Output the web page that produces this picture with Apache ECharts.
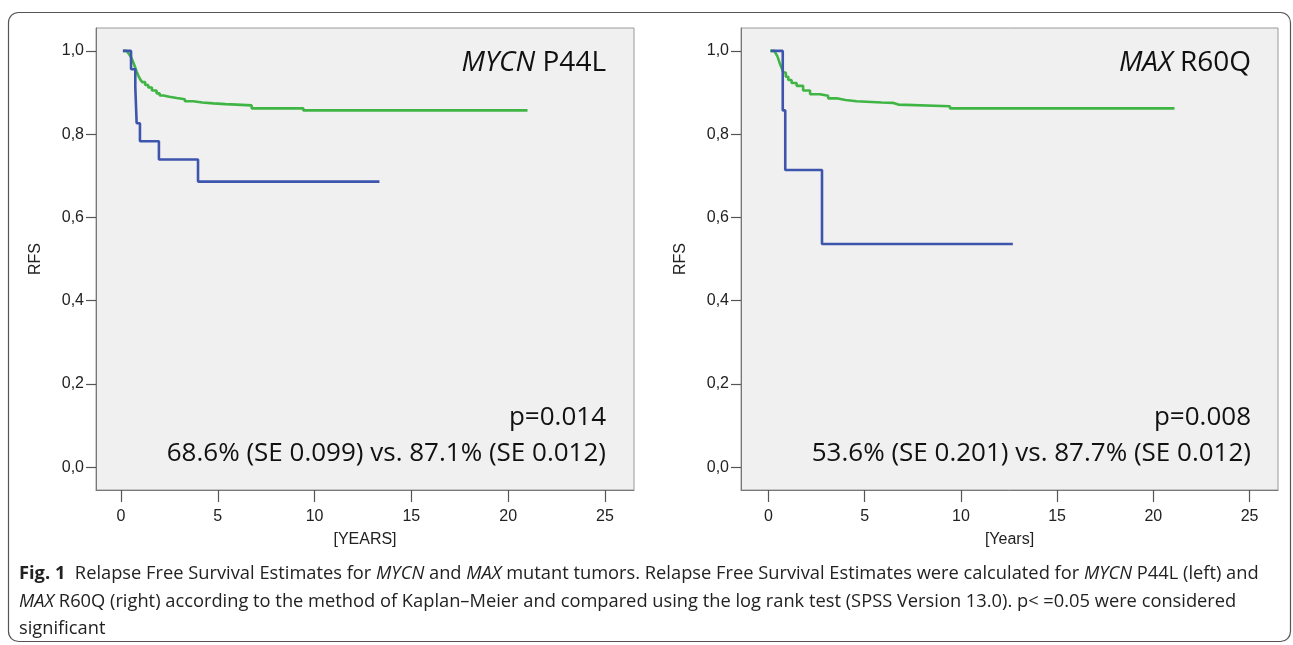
<!DOCTYPE html>
<html>
<head>
<meta charset="utf-8">
<script src="https://cdn.jsdelivr.net/npm/echarts@6/dist/echarts.min.js"></script>
<style>
html,body{margin:0;padding:0;background:#fff;}
#chart{width:1293px;height:645px;}
</style>
</head>
<body>
<div id="chart"></div>
<script>
// ---- data ----
const xTicks = [0, 5, 10, 15, 20, 25];
const yTicks = [0, 0.2, 0.4, 0.6, 0.8, 1.0];
const yTickLabels = ['0,0', '0,2', '0,4', '0,6', '0,8', '1,0'];

// MYCN P44L panel: [years, survival]
const mycnMutant = [[0.1,1],[0.52,0.956],[0.74,0.913],[0.81,0.826],[0.98,0.783],[1.96,0.739],[3.98,0.686],[13.35,0.686]];
const mycnWild = [[0.1,1.0],[0.3,0.997],[0.4,0.993],[0.48,0.988],[0.55,0.982],[0.64,0.972],[0.72,0.962],[0.81,0.95],[0.9,0.94],[1.0,0.931],[1.1,0.925],[1.25,0.918],[1.41,0.912],[1.6,0.905],[1.84,0.898],[2.0,0.893],[2.19,0.89],[2.5,0.887],[2.88,0.884],[3.3,0.879],[3.73,0.876],[4.2,0.874],[4.77,0.872],[5.4,0.871],[5.97,0.869],[6.75,0.862],[9.42,0.857],[21.0,0.857]];

// MAX R60Q panel
const maxMutant = [[0.13,1],[0.74,0.857],[0.87,0.714],[2.78,0.536],[12.7,0.536]];
const maxWild = [[0.08,1.0],[0.3,0.997],[0.39,0.993],[0.45,0.988],[0.5,0.982],[0.6,0.968],[0.7,0.957],[0.77,0.948],[0.9,0.938],[1.03,0.93],[1.2,0.923],[1.46,0.916],[1.8,0.905],[2.16,0.896],[2.68,0.892],[3.1,0.886],[3.54,0.882],[4.0,0.879],[4.58,0.876],[5.88,0.875],[6.49,0.871],[6.75,0.867],[9.43,0.862],[21.1,0.862]];

const panelTitles = [['MYCN', ' P44L'], ['MAX', ' R60Q']];
const pValues = ['p=0.014', 'p=0.008'];
const estimates = ['68.6% (SE 0.099) vs. 87.1% (SE 0.012)', '53.6% (SE 0.201) vs. 87.7% (SE 0.012)'];
const xNames = ['[YEARS]', '[Years]'];
const yName = 'RFS';

const captionLines = [
  '{b|Fig. 1}  Relapse Free Survival Estimates for {i|MYCN} and {i|MAX} mutant tumors. Relapse Free Survival Estimates were calculated for {i|MYCN} P44L (left) and',
  '{i|MAX} R60Q (right) according to the method of Kaplan\u2013Meier and compared using the log rank test (SPSS Version 13.0). p< =0.05 were considered',
  'significant'
];

// ---- layout ----
const BLUE = '#3d55ad';
const GREEN = '#3fb544';
const panels = [
  {left: 96, width: 538, xmin: -1.29, xmax: 26.5, textRight: 606},
  {left: 741, width: 537, xmin: -1.43, xmax: 26.48, textRight: 1251}
];
const gridTop = 28, gridHeight = 462;
const yMin = -0.055, yMax = 1.055;
const axisFont = '"Liberation Sans", Arial, sans-serif';
const annFont = '"Open Sans", sans-serif';
const capSize = 18.3;

const chart = echarts.init(document.getElementById('chart'), null, {renderer: 'canvas'});

const grids = [], xAxes = [], yAxes = [], series = [], graphics = [];
panels.forEach((p, i) => {
  grids.push({left: p.left, top: gridTop, width: p.width, height: gridHeight, show: true,
    backgroundColor: '#f0f0f0', borderColor: '#9a9a9a', borderWidth: 1, containLabel: false});
  xAxes.push({type: 'value', gridIndex: i, min: p.xmin, max: p.xmax,
    name: xNames[i], nameLocation: 'middle', nameGap: 42,
    nameTextStyle: {fontFamily: axisFont, fontSize: 16, color: '#222'},
    axisLine: {show: true, onZero: false, lineStyle: {color: '#777', width: 1}},
    axisTick: {show: true, length: 12, customValues: xTicks, lineStyle: {color: '#555', width: 1.2}},
    axisLabel: {customValues: xTicks, margin: 19, fontFamily: axisFont, fontSize: 16, color: '#222'},
    splitLine: {show: false}});
  yAxes.push({type: 'value', gridIndex: i, min: yMin, max: yMax,
    name: yName, nameLocation: 'middle', nameGap: 52, nameRotate: 90,
    nameTextStyle: {fontFamily: axisFont, fontSize: 16, color: '#222'},
    axisLine: {show: true, onZero: false, lineStyle: {color: '#777', width: 1}},
    axisTick: {show: true, length: 10, customValues: yTicks, lineStyle: {color: '#555', width: 1.2}},
    axisLabel: {customValues: yTicks, margin: 12, fontFamily: axisFont, fontSize: 16, color: '#222',
      formatter: v => { const k = yTicks.findIndex(t => Math.abs(t - v) < 1e-6); return k >= 0 ? yTickLabels[k] : ''; }},
    splitLine: {show: false}});

  const wild = i === 0 ? mycnWild : maxWild;
  const mut = i === 0 ? mycnMutant : maxMutant;
  series.push({type: 'line', xAxisIndex: i, yAxisIndex: i, data: wild, step: 'end', symbol: 'none',
    lineStyle: {color: GREEN, width: 2.6}, z: 3, silent: true, animation: false});
  series.push({type: 'line', xAxisIndex: i, yAxisIndex: i, data: mut, step: 'end', symbol: 'none',
    lineStyle: {color: BLUE, width: 2.6}, z: 4, silent: true, animation: false});

  graphics.push({type: 'text', x: p.textRight, y: 63, z: 10, style: {
    text: '{i|' + panelTitles[i][0] + '}{n|' + panelTitles[i][1] + '}', align: 'right', verticalAlign: 'middle',
    rich: {i: {fontFamily: annFont, fontSize: 28, fontStyle: 'italic', fill: '#111'},
           n: {fontFamily: annFont, fontSize: 28, fill: '#111'}}}});
  graphics.push({type: 'text', x: p.textRight, y: 418, z: 10, style: {
    text: pValues[i], align: 'right', verticalAlign: 'middle', fontFamily: annFont, fontSize: 26, fill: '#111'}});
  graphics.push({type: 'text', x: p.textRight, y: 454, z: 10, style: {
    text: estimates[i], align: 'right', verticalAlign: 'middle', fontFamily: annFont, fontSize: 26, fill: '#111'}});
});

// outer frame
graphics.push({type: 'rect', shape: {x: 8.5, y: 12.5, width: 1282, height: 629, r: 10}, z: 0,
  style: {fill: 'none', stroke: '#555', lineWidth: 1.2}});
// caption
const capY = [574, 602, 629];
captionLines.forEach((t, k) => {
  graphics.push({type: 'text', x: 19, y: capY[k], z: 10, style: {
    text: t, align: 'left', verticalAlign: 'middle', fontFamily: annFont, fontSize: capSize, fill: '#222',
    rich: {b: {fontFamily: annFont, fontSize: capSize, fontWeight: 'bold', fill: '#222'},
           i: {fontFamily: annFont, fontSize: capSize, fontStyle: 'italic', fill: '#222'}}}});
});

chart.setOption({
  animation: false,
  grid: grids, xAxis: xAxes, yAxis: yAxes, series: series, graphic: graphics
});
</script>
</body>
</html>
